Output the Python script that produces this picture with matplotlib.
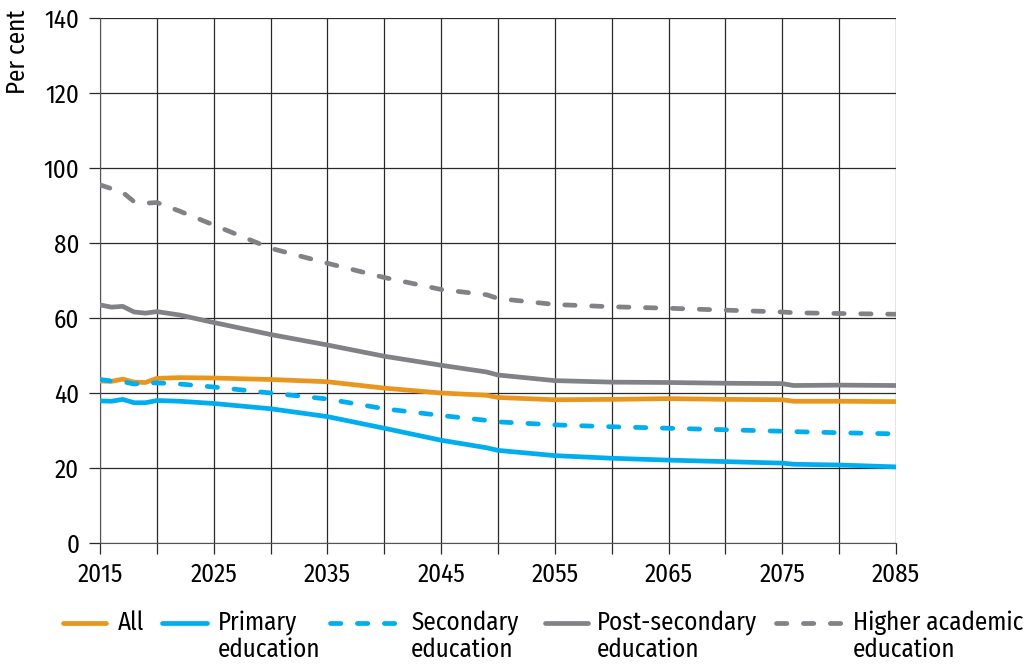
import matplotlib
matplotlib.use("Agg")
import matplotlib.pyplot as plt
from matplotlib.lines import Line2D
import numpy as np

plt.rcParams['font.family'] = ['Fira Sans Condensed', 'DejaVu Sans']

years = [2015, 2016, 2017, 2018, 2019, 2020, 2022, 2025, 2030, 2035, 2040, 2045,
         2049, 2050, 2055, 2060, 2065, 2070, 2075, 2076, 2080, 2085]
all_edu = [43.2, 43.1, 43.7, 42.9, 42.8, 43.9, 44.1, 44.0, 43.6, 43.0, 41.3, 40.0,
           39.4, 38.8, 38.2, 38.3, 38.5, 38.3, 38.2, 37.8, 37.8, 37.7]
primary = [37.9, 37.8, 38.3, 37.4, 37.4, 38.0, 37.8, 37.2, 35.8, 33.7, 30.6, 27.4,
           25.4, 24.7, 23.3, 22.6, 22.1, 21.7, 21.3, 21.0, 20.8, 20.3]
secondary = [43.6, 43.2, 43.0, 42.4, 42.6, 42.7, 42.4, 41.6, 40.0, 38.4, 35.8, 34.0,
             32.7, 32.3, 31.5, 31.0, 30.6, 30.2, 29.8, 29.7, 29.4, 29.1]
post_secondary = [63.5, 62.9, 63.1, 61.6, 61.3, 61.7, 60.8, 58.8, 55.6, 52.8, 49.8, 47.4,
                  45.6, 44.8, 43.3, 42.9, 42.8, 42.6, 42.5, 42.0, 42.1, 42.0]
higher_academic = [95.5, 94.5, 93.5, 91.0, 90.6, 90.8, 88.5, 84.8, 78.6, 74.6, 70.8, 67.6,
                   66.2, 65.2, 63.6, 63.0, 62.6, 62.1, 61.6, 61.4, 61.2, 61.0]

labels = ["All", "Primary\neducation", "Secondary\neducation",
          "Post-secondary\neducation", "Higher academic\neducation"]
x_ticks = [2015, 2025, 2035, 2045, 2055, 2065, 2075, 2085]
y_ticks = [0, 20, 40, 60, 80, 100, 120, 140]

ORANGE = '#E8961E'
BLUE = '#00AEEF'
GRAY = '#808285'

series = [
    (all_edu, ORANGE, '-'),
    (primary, BLUE, '-'),
    (secondary, BLUE, '--'),
    (post_secondary, GRAY, '-'),
    (higher_academic, GRAY, '--'),
]

fig = plt.figure(figsize=(10.29, 6.66), dpi=100)
ax = fig.add_axes([100/1029, 1-543/666, 796/1029, 525/666])

lw = 3.4
DASH = (2.2, 3.5)
for vals, col, ls in series:
    l, = ax.plot(years, vals, color=col, lw=lw, solid_capstyle='round', zorder=3)
    if ls == '--':
        l.set_dashes(DASH)
        l.set_dash_capstyle('round')

ax.set_xlim(2015, 2085)
ax.set_ylim(0, 140)
ax.set_xticks(x_ticks)
ax.set_xticks(np.arange(2015, 2086, 5), minor=True)
ax.set_yticks(y_ticks)
ax.grid(True, which='both', axis='x', color='#2a2a2a', lw=0.9)
ax.grid(True, which='major', axis='y', color='#2a2a2a', lw=0.9)
for s in ax.spines.values():
    s.set_visible(False)
ax.spines['left'].set_visible(True)
ax.spines['left'].set_color('#555555')
ax.spines['bottom'].set_visible(True)
ax.spines['bottom'].set_color('#555555')
ax.tick_params(axis='both', which='both', length=8, width=0.9, color='#2a2a2a',
               labelsize=18, pad=6)
ax.tick_params(axis='y', pad=7)
ax.set_axisbelow(True)

fig.text(18/1029, 1-10/666, "Per cent", rotation=90, ha='center', va='top', fontsize=18)

# legend
entries = [
    (63, 106, 118, ORANGE, '-'),
    (162, 207, 218, BLUE, '-'),
    (330, 400, 411, BLUE, '--'),
    (545, 588, 597, GRAY, '-'),
    (776, 843, 853, GRAY, '--'),
]
ly = 1 - 623/666
for (x0, x1, xt, col, ls), lab in zip(entries, labels):
    ln = Line2D([x0/1029, x1/1029], [ly, ly], transform=fig.transFigure, color=col,
                lw=lw, solid_capstyle='round')
    if ls == '--':
        ln.set_dashes(DASH)
        ln.set_dash_capstyle('round')
    fig.add_artist(ln)
    fig.text(xt/1029, 1-610/666, lab, ha='left', va='top', fontsize=18, linespacing=1.12)

fig.savefig("out.png", dpi=100)
